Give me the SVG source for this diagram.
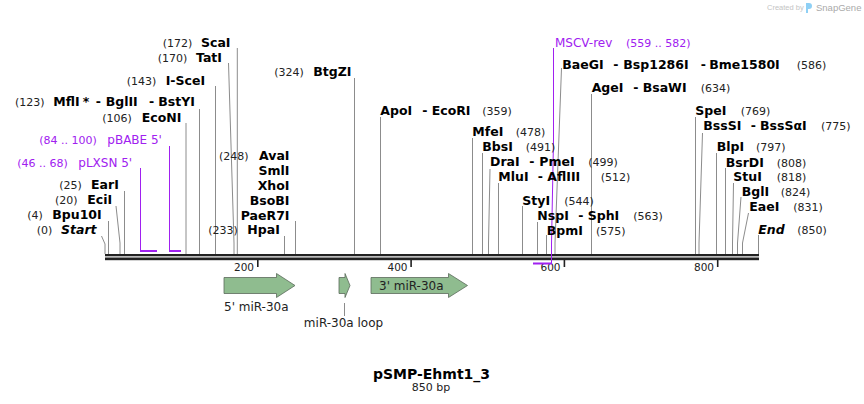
<svg xmlns="http://www.w3.org/2000/svg" width="864" height="404" viewBox="0 0 864 404">
<style>
text{font-family:"DejaVu Sans",Verdana,sans-serif}
.n{font-size:12.5px;font-weight:bold;fill:#000}
.i{font-style:italic}
.p{font-size:11px;fill:#222}
.pu{font-size:12px;fill:#a020f0}
.pn{font-size:11px;fill:#a020f0}
.f{font-size:12px;fill:#222}
.t{font-size:10.5px;fill:#222}
.l{stroke:#8c8c8c;stroke-width:1;fill:none}
.pl{stroke:#a020f0;stroke-width:1;fill:none}
.bar{fill:#a020f0}
.arr{fill:#8fbc8f;stroke:#5a6a5a;stroke-width:0.8}
.bb{fill:#222}
</style>
<rect width="864" height="404" fill="#fff"/>

<g id="watermark">
<text x="767" y="10" style="font-family:'Liberation Sans',Arial,sans-serif;font-size:7.5px;fill:#c4c4c4">Created by</text>
<path d="M806,3 h3 a3,3 0 0 1 0,6 h-1 v4 h-2 z" fill="#8fd0f5"/>
<text x="816" y="11" style="font-family:'Liberation Sans',Arial,sans-serif;font-size:9.5px;fill:#aaa">SnapGene</text>
</g>

<g id="backbone">
<rect class="bb" x="105" y="254" width="654" height="2.3"/>
<rect class="bb" x="105" y="257.5" width="654" height="2.7"/>
<rect class="bb" x="257" y="260" width="1.6" height="7"/>
<rect class="bb" x="410.3" y="260" width="1.6" height="7"/>
<rect class="bb" x="563.6" y="260" width="1.6" height="7"/>
<rect class="bb" x="716.9" y="260" width="1.6" height="7"/>
<text class="t" x="254" y="271" text-anchor="end">200</text>
<text class="t" x="407.5" y="271" text-anchor="end">400</text>
<text class="t" x="560.5" y="271" text-anchor="end">600</text>
<text class="t" x="714" y="271" text-anchor="end">800</text>
</g>

<g id="connectors">
<polyline class="l" points="101.5,236 105,244 105,254"/>
<line class="l" x1="108.5" y1="221" x2="108.5" y2="254"/>
<polyline class="l" points="116,206 120,243 120,254"/>
<line class="l" x1="124.5" y1="191" x2="124.5" y2="254"/>
<line class="l" x1="186" y1="123" x2="186" y2="254"/>
<line class="l" x1="199.5" y1="109" x2="199.5" y2="254"/>
<line class="l" x1="215.5" y1="86" x2="215.5" y2="254"/>
<polyline class="l" points="228.5,63 234,243 234,254"/>
<line class="l" x1="237.3" y1="48" x2="237.3" y2="254"/>
<line class="l" x1="284.5" y1="236" x2="284.5" y2="254"/>
<line class="l" x1="295.5" y1="221" x2="295.5" y2="254"/>
<line class="l" x1="354.5" y1="78" x2="354.5" y2="254"/>
<line class="l" x1="380.5" y1="117" x2="380.5" y2="254"/>
<line class="l" x1="472.5" y1="138" x2="472.5" y2="254"/>
<line class="l" x1="482.5" y1="153" x2="482.5" y2="254"/>
<polyline class="l" points="490,169 488.5,243 488.5,254"/>
<line class="l" x1="498.5" y1="183" x2="498.5" y2="254"/>
<line class="l" x1="522.5" y1="206" x2="522.5" y2="254"/>
<line class="l" x1="537.5" y1="222" x2="537.5" y2="254"/>
<line class="l" x1="546.5" y1="235" x2="546.5" y2="254"/>
<polyline class="l" points="561.5,68 555,243 555,254"/>
<line class="l" x1="591.5" y1="94" x2="591.5" y2="254"/>
<line class="l" x1="695.5" y1="117" x2="695.5" y2="254"/>
<polyline class="l" points="702.5,133 699,243 699,254"/>
<line class="l" x1="716.5" y1="153" x2="716.5" y2="254"/>
<line class="l" x1="725.5" y1="168" x2="725.5" y2="254"/>
<polyline class="l" points="733.5,183 732.5,243 732.5,254"/>
<polyline class="l" points="741,197 737.5,243 737.5,254"/>
<polyline class="l" points="748.5,213 742.5,243 742.5,254"/>
<line class="l" x1="758.5" y1="235" x2="758.5" y2="254"/>
<line class="pl" x1="140.5" y1="168" x2="140.5" y2="251"/>
<rect class="bar" x="140" y="250" width="17" height="2"/>
<line class="pl" x1="169.5" y1="146" x2="169.5" y2="251"/>
<rect class="bar" x="169" y="250" width="12" height="2"/>
<polyline class="pl" points="553.5,48 553.5,140 551.5,244 551.5,264"/>
<rect class="bar" x="533" y="262.5" width="19" height="2"/>
<line class="l" x1="344.5" y1="303" x2="344.5" y2="316"/>
</g>

<g id="start"><text class="p" x="36.7" y="233.5">(0)</text><text class="n i" x="61" y="233.5">Start</text></g>
<g id="bpu10i"><text class="p" x="27.3" y="218.5">(4)</text><text class="n" x="52.3" y="218.5">Bpu10I</text></g>
<g id="ecii"><text class="p" x="55" y="204">(20)</text><text class="n" x="87.3" y="204">EciI</text></g>
<g id="eari"><text class="p" x="59.3" y="189">(25)</text><text class="n" x="91" y="189">EarI</text></g>
<g id="plxsn"><text class="pn" x="17.3" y="166.5">(46 .. 68)</text><text class="pu" x="78.3" y="166.5">pLXSN 5'</text></g>
<g id="pbabe"><text class="pn" x="39.3" y="144">(84 .. 100)</text><text class="pu" x="107.3" y="144">pBABE 5'</text></g>
<g id="econi"><text class="p" x="102.3" y="121.5">(106)</text><text class="n" x="141.7" y="121.5">EcoNI</text></g>
<g id="mfli"><text class="p" x="15" y="106">(123)</text><text class="n" y="106"><tspan x="53.3">MflI</tspan><tspan x="82.7">*</tspan><tspan x="95.7">-</tspan><tspan x="105.7">BglII</tspan><tspan x="149">-</tspan><tspan x="158.3">BstYI</tspan></text></g>
<g id="iscei"><text class="p" x="126.7" y="84.5">(143)</text><text class="n" x="165.7" y="84.5">I-SceI</text></g>
<g id="tati"><text class="p" x="157.7" y="62">(170)</text><text class="n" x="196" y="62">TatI</text></g>
<g id="scai"><text class="p" x="162.7" y="46.5">(172)</text><text class="n" x="201" y="46.5">ScaI</text></g>
<g id="hpai"><text class="p" x="208.3" y="234">(233)</text><text class="n" x="247.3" y="234">HpaI</text></g>
<g id="avai">
<text class="p" x="219" y="159.5">(248)</text>
<text class="n" x="289.5" y="159.5" text-anchor="end">AvaI</text>
<text class="n" x="289.5" y="174.5" text-anchor="end">SmlI</text>
<text class="n" x="289.5" y="189.5" text-anchor="end">XhoI</text>
<text class="n" x="289.5" y="204.5" text-anchor="end">BsoBI</text>
<text class="n" x="289.5" y="219.5" text-anchor="end">PaeR7I</text>
</g>
<g id="btgzi"><text class="p" x="274.3" y="76">(324)</text><text class="n" x="313.3" y="76">BtgZI</text></g>
<g id="apoi"><text class="n" y="114.5"><tspan x="380.3">ApoI</tspan><tspan x="422.3">-</tspan><tspan x="431.7">EcoRI</tspan></text><text class="p" x="482.3" y="114.5">(359)</text></g>
<g id="mfei"><text class="n" x="472.3" y="136">MfeI</text><text class="p" x="515.7" y="136">(478)</text></g>
<g id="bbsi"><text class="n" x="482.3" y="151">BbsI</text><text class="p" x="525.7" y="151">(491)</text></g>
<g id="drai"><text class="n" y="166"><tspan x="490">DraI</tspan><tspan x="529.3">-</tspan><tspan x="539.3">PmeI</tspan></text><text class="p" x="588.3" y="166">(499)</text></g>
<g id="mlui"><text class="n" y="181"><tspan x="498.3">MluI</tspan><tspan x="537.7">-</tspan><tspan x="547.3">AflIII</tspan></text><text class="p" x="600.7" y="181">(512)</text></g>
<g id="styi"><text class="n" x="522.3" y="204.5">StyI</text><text class="p" x="564.3" y="204.5">(544)</text></g>
<g id="nspi"><text class="n" y="219.5"><tspan x="537.3">NspI</tspan><tspan x="578.3">-</tspan><tspan x="587.7">SphI</tspan></text><text class="p" x="633.3" y="219.5">(563)</text></g>
<g id="bpmi"><text class="n" x="546.7" y="234.5">BpmI</text><text class="p" x="596" y="234.5">(575)</text></g>
<g id="mscv"><text class="pu" x="555" y="46.5">MSCV-rev</text><text class="pn" x="626" y="46.5">(559 .. 582)</text></g>
<g id="baegi"><text class="n" y="68.5"><tspan x="562.3">BaeGI</tspan><tspan x="613.3">-</tspan><tspan x="623.3">Bsp1286I</tspan><tspan x="700.7">-</tspan><tspan x="709.3">Bme1580I</tspan></text><text class="p" x="796.7" y="68.5">(586)</text></g>
<g id="agei"><text class="n" y="91.5"><tspan x="591.7">AgeI</tspan><tspan x="633.3">-</tspan><tspan x="642.7">BsaWI</tspan></text><text class="p" x="700.7" y="91.5">(634)</text></g>
<g id="spei"><text class="n" x="695.3" y="114.5">SpeI</text><text class="p" x="740.7" y="114.5">(769)</text></g>
<g id="bsssi"><text class="n" y="129.5"><tspan x="703.3">BssSI</tspan><tspan x="750.7">-</tspan><tspan x="760">BssSαI</tspan></text><text class="p" x="821" y="129.5">(775)</text></g>
<g id="blpi"><text class="n" x="716.7" y="151">BlpI</text><text class="p" x="756" y="151">(797)</text></g>
<g id="bsrdi"><text class="n" x="725.7" y="166.5">BsrDI</text><text class="p" x="776.7" y="166.5">(808)</text></g>
<g id="stui"><text class="n" x="733.3" y="181">StuI</text><text class="p" x="776.7" y="181">(818)</text></g>
<g id="bgli"><text class="n" x="741.7" y="196">BglI</text><text class="p" x="780.7" y="196">(824)</text></g>
<g id="eaei"><text class="n" x="749.3" y="211">EaeI</text><text class="p" x="793.3" y="211">(831)</text></g>
<g id="end"><text class="n i" x="758.3" y="233.5">End</text><text class="p" x="797.3" y="233.5">(850)</text></g>

<g id="f5mir">
<polygon class="arr" points="224,277.5 276.5,277.5 276.5,273.5 295,285.5 276.5,297.5 276.5,293.5 224,293.5"/>
<text class="f" x="224" y="311">5' miR-30a</text>
</g>
<g id="loop">
<polygon class="arr" points="339,277.5 345,277.5 345,273.5 350,285.5 345,297.5 345,293.5 339,293.5"/>
<text class="f" x="343.5" y="327" text-anchor="middle">miR-30a loop</text>
</g>
<g id="f3mir">
<polygon class="arr" points="371,277.5 448.5,277.5 448.5,273.5 467.5,285.5 448.5,297.5 448.5,293.5 371,293.5"/>
<text class="f" x="379" y="289.5">3' miR-30a</text>
</g>

<g id="title">
<text x="431.5" y="378.5" text-anchor="middle" style="font-size:14px;font-weight:bold;fill:#000">pSMP-Ehmt1_3</text>
<text x="431" y="391" text-anchor="middle" style="font-size:11px;fill:#222">850 bp</text>
</g>
</svg>
